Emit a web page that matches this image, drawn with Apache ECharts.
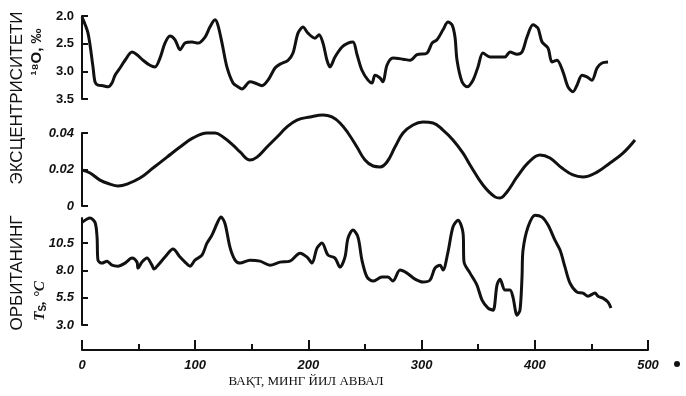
<!DOCTYPE html>
<html><head><meta charset="utf-8">
<script src="https://cdn.jsdelivr.net/npm/echarts@6/dist/echarts.min.js"></script>
<style>html,body{margin:0;padding:0;background:#fff}#c{width:686px;height:396px}</style>
</head><body><div id="c"></div>
<script>
// Time, thousand years ago
var xTicks = [0, 100, 200, 300, 400, 500];
// Top panel: delta 18O, per mil (inverted axis)
var d18Ticks = [2.0, 2.5, 3.0, 3.5];
var d18Time = [0,5.3,9.7,11.5,14.1,18.6,23,26.5,29.2,33.6,38,44.2,48.6,53.9,60,64.5,68.9,73.3,77.7,82.2,86.6,91,97.2,102.5,108.7,113,117.5,120,123.7,128,133.4,137.8,141.3,148.4,152.8,159,164.3,170.5,175,182,186.4,190.8,195.2,199.6,205.8,209.4,212.9,216.4,219.1,223.5,229.7,235,239.4,243,247.3,252.7,256.2,258.8,263.3,265.9,269.4,274.7,283.6,289.8,296,304.8,309.2,313.6,318.9,323.3,326.9,329.5,331.3,335.7,340.1,345.4,349.8,354.2,360.4,367.5,373.7,378.1,384.3,388.7,393.1,398.4,402.8,406.4,411.7,415.2,419.6,424.9,429.3,433.7,437.3,441.7,446.1,450.5,455,459.4,464.7];
var d18Val = [2.02,2.31,2.92,3.19,3.25,3.26,3.28,3.21,3.07,2.94,2.80,2.65,2.70,2.80,2.89,2.92,2.76,2.49,2.36,2.43,2.61,2.49,2.47,2.49,2.38,2.20,2.07,2.16,2.49,2.92,3.21,3.28,3.32,3.19,3.21,3.26,3.16,2.94,2.87,2.80,2.67,2.31,2.20,2.31,2.40,2.34,2.49,2.80,2.92,2.74,2.56,2.49,2.47,2.70,2.98,3.16,3.21,3.07,3.12,3.19,2.89,2.76,2.78,2.80,2.70,2.67,2.49,2.43,2.25,2.11,2.16,2.38,2.80,3.19,3.28,3.16,2.92,2.67,2.74,2.74,2.74,2.65,2.69,2.65,2.38,2.16,2.22,2.47,2.58,2.83,2.80,3.01,3.28,3.37,3.25,3.07,3.10,3.16,2.94,2.85,2.83];
// Middle panel: orbital eccentricity
var eccTicks = [0, 0.02, 0.04];
var eccTime = [0,7.1,15.9,24.7,31.8,39.8,51.2,62.7,75.1,86.6,98.1,110.4,117.5,124.6,133.4,139.6,148.4,154.6,163.4,172.3,181.1,189.9,201.4,212.9,220.8,227.9,235,242.9,250,257.1,263.3,269.4,276.5,283.6,292.4,301.2,310.1,318.9,327.7,336.6,342.8,354.2,364.8,369.3,375.4,384.3,394,404.6,413.4,424,433.7,442.6,455,466.4,477.9,488.5];
var eccVal = [0.0197,0.0181,0.0142,0.0120,0.0110,0.0120,0.0153,0.0208,0.0268,0.0323,0.0373,0.0400,0.0400,0.0378,0.0334,0.0296,0.0252,0.0268,0.0323,0.0378,0.0433,0.0471,0.0488,0.0499,0.0488,0.0455,0.0400,0.0323,0.0252,0.0219,0.0214,0.0241,0.0323,0.0400,0.0444,0.0460,0.0455,0.0416,0.0362,0.0290,0.0225,0.0115,0.0050,0.0044,0.0077,0.0159,0.0236,0.0280,0.0263,0.0208,0.0170,0.0159,0.0186,0.0236,0.0290,0.0362];
// Bottom panel: Ts, deg C
var tsTicks = [3.0, 5.5, 8.0, 10.5];
var tsTime = [0,7.1,11.5,13.3,14.1,17.7,22.1,26.5,31.8,38,44.2,48.6,49.5,53,57.4,61.8,63.6,67.1,73.3,80.4,86.6,91,95.4,99.8,106,110.4,114.8,119.3,122.8,126.3,130.7,135.2,139.6,148.4,157.2,166.1,174.9,183.7,192.6,198.8,203.2,207.6,212,217.3,223.5,227.9,232.3,235,239.4,243.8,247.3,251.8,257.1,265,270.3,274.7,280.9,287.1,294.2,301.2,307.4,311.8,316.3,318.9,323.3,327.7,332.2,336.6,337.5,342.8,348.9,353.4,358.7,363.1,366.6,369.3,373.7,378.1,380.7,384.3,386.9,388.7,389.6,394,400.2,406.4,411.7,417.8,422.3,426.7,431.1,437.3,442.6,447,453.2,455.8,460.2,464.7,467.3];
var tsVal = [12.4,12.8,12.4,11.05,8.94,8.67,8.85,8.48,8.39,8.67,9.13,8.76,8.21,8.76,9.13,8.48,8.12,8.48,9.22,9.95,9.22,8.76,8.39,8.94,9.4,10.5,11.23,12.3,12.9,12.3,10.13,8.94,8.67,8.94,8.85,8.48,8.76,8.85,9.58,9.22,8.67,10.04,10.5,9.4,9.13,8.3,9.22,10.96,11.69,11.05,8.94,7.39,7.02,7.39,7.39,7.02,8.03,7.75,7.2,6.93,7.11,8.21,8.48,8.03,9.68,11.97,12.6,11.42,8.76,7.75,6.65,5.28,4.55,4.36,6.65,7.2,6.2,6.2,5.55,3.9,4.36,7.39,9.86,11.97,13.06,12.88,12.15,10.77,9.86,8.3,6.84,6.01,5.92,5.64,5.92,5.64,5.46,5.1,4.55];

function pairs(t, v) { return t.map(function (x, i) { return [x, v[i]]; }); }

var ink = '#111';
var tickFont = { color: ink, fontFamily: 'Liberation Sans', fontWeight: 'bold', fontSize: 13 };
function yAx(idx, min, max, ticks, fmt, italic, inverse) {
  return {
    type: 'value', gridIndex: idx, min: min, max: max, inverse: !!inverse,
    axisLine: { show: true, lineStyle: { color: ink, width: 2 } },
    axisTick: { show: true, inside: true, length: 6, lineStyle: { color: ink, width: 2 }, customValues: ticks },
    axisLabel: Object.assign({ margin: 8, formatter: fmt, customValues: ticks, fontStyle: italic ? 'italic' : 'normal' }, tickFont),
    splitLine: { show: false }
  };
}
function hiddenX(idx) { return { type: 'value', gridIndex: idx, min: 0, max: 500, show: false }; }

var chart = echarts.init(document.getElementById('c'), null, { renderer: 'canvas' });
var lineStyle = { color: ink, width: 3 };
chart.setOption({
  animation: false,
  backgroundColor: '#fff',
  grid: [
    { left: 82, top: 16, width: 566, height: 83 },
    { left: 82, top: 133, width: 566, height: 73 },
    { left: 82, top: 218, width: 566, height: 107 },
    { left: 82, top: 340, width: 566, height: 10 }
  ],
  xAxis: [hiddenX(0), hiddenX(1), hiddenX(2), {
    type: 'value', gridIndex: 3, min: 0, max: 500, interval: 100,
    axisLine: { show: true, lineStyle: { color: ink, width: 2 } },
    axisTick: { show: true, inside: true, length: 10, lineStyle: { color: ink, width: 2 } },
    minorTick: { show: true, splitNumber: 2, length: 6, lineStyle: { color: ink, width: 2 } },
    axisLabel: { margin: 9, fontStyle: 'italic', fontSize: 13, color: ink, fontFamily: 'Liberation Sans', fontWeight: 'bold',
      customValues: xTicks },
    splitLine: { show: false }, minorSplitLine: { show: false }
  }],
  yAxis: [
    yAx(0, 2.0, 3.5, d18Ticks, function (v) { return v.toFixed(1); }, false, true),
    yAx(1, 0, 0.04, eccTicks, function (v) { return v === 0 ? '0' : v.toFixed(2); }, true, false),
    yAx(2, 3.0, 12.8, tsTicks, function (v) { return v.toFixed(1); }, true, false),
    { type: 'value', gridIndex: 3, show: false }
  ],
  series: [
    { type: 'line', xAxisIndex: 0, yAxisIndex: 0, data: pairs(d18Time, d18Val), showSymbol: false, smooth: 0.3, clip: false, lineStyle: lineStyle },
    { type: 'line', xAxisIndex: 1, yAxisIndex: 1, data: pairs(eccTime, eccVal), showSymbol: false, smooth: 0.4, clip: false, lineStyle: lineStyle },
    { type: 'line', xAxisIndex: 2, yAxisIndex: 2, data: pairs(tsTime, tsVal), showSymbol: false, smooth: 0.3, clip: false, lineStyle: lineStyle }
  ],
  graphic: [
    { type: 'text', x: 17, y: 98, rotation: Math.PI / 2, style: { text: 'ЭКСЦЕНТРИСИТЕТИ', fill: ink, font: '17px "Liberation Sans"', align: 'center', verticalAlign: 'middle' } },
    { type: 'text', x: 17, y: 273, rotation: Math.PI / 2, style: { text: 'ОРБИТАНИНГ', fill: ink, font: '17px "Liberation Sans"', align: 'center', verticalAlign: 'middle' } },
    { type: 'text', x: 37, y: 52, rotation: Math.PI / 2, style: { text: '¹⁸O, ‰', fill: ink, font: 'bold 15px "Liberation Sans"', align: 'center', verticalAlign: 'middle' } },
    { type: 'text', x: 40, y: 301, rotation: Math.PI / 2, style: {
        text: '{a|T}{b|S}{a|, °C}', align: 'center', verticalAlign: 'middle',
        rich: { a: { fill: ink, font: 'bold italic 15px "Liberation Serif"' }, b: { fill: ink, font: 'bold 10px "Liberation Sans"', verticalAlign: 'bottom', padding: [6, 0, 0, 0] } } } },
    { type: 'text', x: 306, y: 382, style: { text: 'ВАҚТ, МИНГ ЙИЛ АВВАЛ', fill: ink, font: '13px "Liberation Serif"', align: 'center', verticalAlign: 'middle' } },
    { type: 'circle', shape: { cx: 677, cy: 364, r: 3 }, style: { fill: ink } }
  ]
});
</script></body></html>
